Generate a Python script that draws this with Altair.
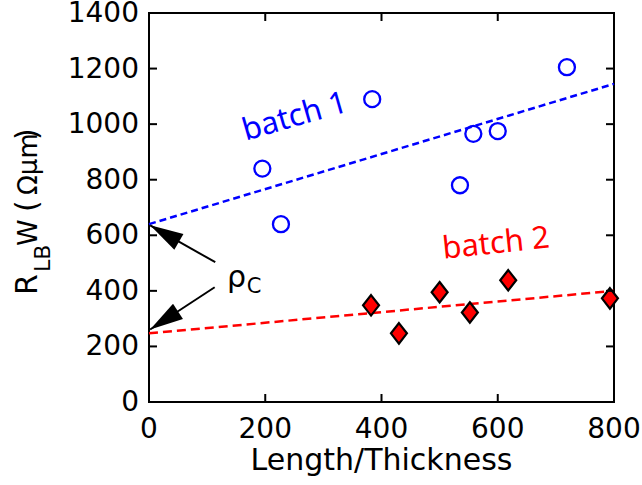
import altair as alt
import pandas as pd

# ---- data ----
batch1_x = [195, 227, 384, 535, 558, 600, 719]
batch1_y = [840, 640, 1090, 780, 965, 975, 1205]
batch2_x = [382, 430, 500, 552, 618, 793]
batch2_y = [348, 247, 395, 322, 438, 373]
fit_x = [0, 800]
batch1_fit = [640, 1145]
batch2_fit = [247, 400]
x_ticks = [0, 200, 400, 600, 800]
y_ticks = [0, 200, 400, 600, 800, 1000, 1200, 1400]
inner_x_ticks = [200, 400, 600]
inner_y_ticks = [200, 400, 600, 800, 1000, 1200]

W, H = 465, 389
FONT = "DejaVu Sans"
BLUE = "#0000FF"
RED = "#FF0000"

xs = alt.Scale(domain=[0, 800], nice=False, zero=False)
ys = alt.Scale(domain=[0, 1400], nice=False, zero=False)

def X(f):
    return alt.X(f, type="quantitative", scale=xs, axis=None)

def Y(f):
    return alt.Y(f, type="quantitative", scale=ys, axis=None)

df1 = pd.DataFrame({"x": batch1_x, "y": batch1_y})
df2 = pd.DataFrame({"x": batch2_x, "y": batch2_y})
fit1 = pd.DataFrame({"x": fit_x, "y": batch1_fit})
fit2 = pd.DataFrame({"x": fit_x, "y": batch2_fit})

line1 = alt.Chart(fit1).mark_line(color=BLUE, strokeDash=[7, 4], strokeWidth=2.5).encode(
    x=X("x"), y=Y("y"))
line2 = alt.Chart(fit2).mark_line(color=RED, strokeDash=[9, 5], strokeWidth=2.5).encode(
    x=X("x"), y=Y("y"))

pts1 = alt.Chart(df1).mark_point(shape="circle", filled=False, color=BLUE, size=256,
                                 strokeWidth=2.3, opacity=1).encode(x=X("x"), y=Y("y"))
pts2 = alt.Chart(df2).mark_point(shape="M0,-1L0.78,0L0,1L-0.78,0Z", filled=True, fill=RED,
                                 stroke="black", strokeWidth=2.2, size=420, opacity=1).encode(
    x=X("x"), y=Y("y"))

# inward ticks on all four sides
dfxt = pd.DataFrame({"v": inner_x_ticks})
dfyt = pd.DataFrame({"v": inner_y_ticks})
tick_style = dict(color="black", strokeWidth=2)
tb = alt.Chart(dfxt).mark_rule(**tick_style).encode(x=X("v"), y=alt.value(H), y2=alt.value(H - 8))
tt = alt.Chart(dfxt).mark_rule(**tick_style).encode(x=X("v"), y=alt.value(0), y2=alt.value(8))
tl = alt.Chart(dfyt).mark_rule(**tick_style).encode(y=Y("v"), x=alt.value(0), x2=alt.value(8))
tr = alt.Chart(dfyt).mark_rule(**tick_style).encode(y=Y("v"), x=alt.value(W), x2=alt.value(W - 8))

# tick labels
xl = alt.Chart(pd.DataFrame({"v": x_ticks})).mark_text(
    font=FONT, fontSize=28, color="black", align="center", baseline="alphabetic").encode(
    x=X("v"), y=alt.value(H + 36), text=alt.Text("v:Q", format="d"))
yl = alt.Chart(pd.DataFrame({"v": y_ticks})).mark_text(
    font=FONT, fontSize=28, color="black", align="right", baseline="middle", dy=1).encode(
    y=Y("v"), x=alt.value(-10), text=alt.Text("v:Q", format="d"))

dummy = pd.DataFrame({"t": [""]})

def arrow(x0, y0, x1, y1, ang):
    shaft = alt.Chart(dummy).mark_rule(color="black", strokeWidth=2).encode(
        x=alt.datum(x0), y=alt.datum(y0), x2=alt.datum(x1), y2=alt.datum(y1))
    head = alt.Chart(dummy).mark_point(shape="M0,0L0.55,2L-0.55,2Z", filled=True, color="black",
                                       size=1100, angle=ang, opacity=1, strokeWidth=0).encode(
        x=alt.datum(x1), y=alt.datum(y1))
    return [shaft, head]

def dtext(txt, x, y, size, color="black", angle=0, align="center", baseline="middle", font=FONT):
    return alt.Chart(pd.DataFrame({"t": [txt]})).mark_text(
        font=font, fontSize=size, color=color, angle=angle, align=align, baseline=baseline).encode(
        text="t:N", x=alt.datum(x), y=alt.datum(y))

def ptext(txt, px, py, size, angle=270, align="left", baseline="alphabetic"):
    return alt.Chart(pd.DataFrame({"t": [txt]})).mark_text(
        font=FONT, fontSize=size, color="black", angle=angle, align=align, baseline=baseline).encode(
        text="t:N", x=alt.value(px), y=alt.value(py))

annots = []
annots += arrow(114, 503, 2, 636, 300)
annots += arrow(113, 413, 2, 261, 237)
annots.append(dtext("batch 1", 251, 1025, 31, color=BLUE, angle=344, font="Noto Sans"))
annots.append(dtext("batch 2", 597, 568, 31, color=RED, angle=354, font="Noto Sans"))
annots.append(dtext("ρ", 134, 413, 30, align="left", baseline="alphabetic"))
annots.append(dtext("C", 168, 391, 21, align="left", baseline="alphabetic"))

# axis titles (y title with subscript, built from pieces; pixel offsets from plot origin)
titles = [
    ptext("Length/Thickness", W / 2, H + 68, 30, angle=0, align="center"),
    ptext("R", -112, 282, 30),
    ptext("LB", -99, 259, 22),
    ptext("W", -112, 233, 27),
    ptext("(", -112, 199, 30),
    ptext("Ωμm", -112, 182, 26),
    ptext(")", -112, 127, 30),
]

chart = alt.layer(line1, line2, pts1, pts2, tb, tt, tl, tr, xl, yl, *annots, *titles).properties(
    width=W, height=H,
    autosize=alt.AutoSizeParams(type="none"),
    padding={"left": 149, "top": 13, "right": 28, "bottom": 83},
    background="white",
).configure_view(stroke="black", strokeWidth=2)

chart.save("out.html", embed_options={"renderer": "svg", "actions": False})
